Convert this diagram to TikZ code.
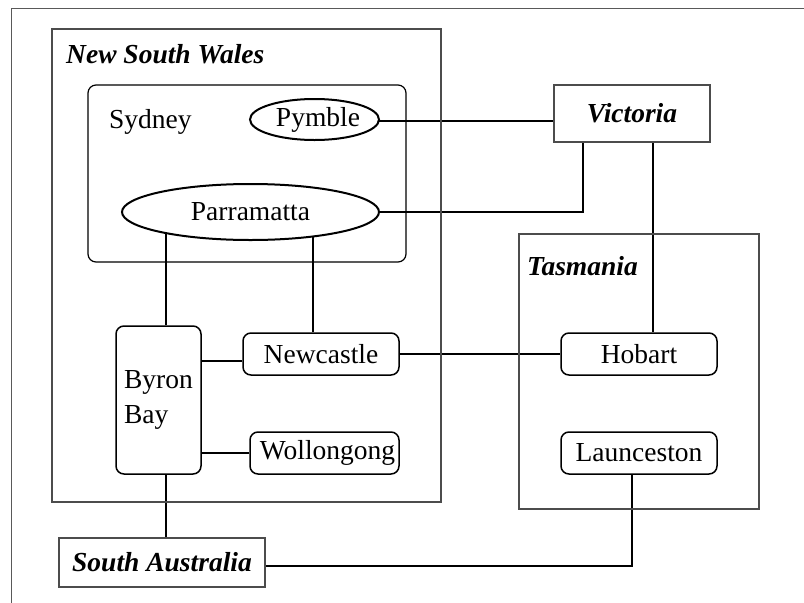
\documentclass[tikz,border=0pt]{standalone}
\usepackage{fontspec}
\setmainfont{Liberation Serif}
\usetikzlibrary{shapes.geometric,calc}
\pgfdeclarelayer{background}
\pgfsetlayers{background,main}
\begin{document}
\begin{tikzpicture}[x=1pt,y=-1pt,
  every node/.style={font=\fontsize{27.5}{35}\selectfont},
  frame/.style={draw=black!70,line width=1.1pt,inner sep=0pt},
  state/.style={draw=black!70,line width=1.2pt,fill=white,inner sep=0pt,font=\fontsize{27.5}{35}\selectfont\bfseries\itshape},
  city/.style={draw=black,line width=1.5pt,rounded corners=8pt,fill=white,inner sep=0pt},
  oval/.style={draw=black,line width=2pt,ellipse,fill=white,inner sep=0pt},
  label/.style={inner sep=0pt,anchor=base west},
  conn/.style={draw=black,line width=2.5pt}]
\useasboundingbox (0,0) rectangle (804,603);
% outer frame (only top and left visible)
\draw[black!65,line width=1pt] (11,603) -- (11,8) -- (804,8);
% region frames
\node[frame,minimum width=389pt,minimum height=473pt] (nsw) at (246.5,265.5) {};
\node[label,font=\fontsize{27.5}{35}\selectfont\bfseries\itshape] (nswl) at (66,63) {New South Wales};
\node[frame,minimum width=240pt,minimum height=275pt] (tas) at (639,371.5) {};
\node[label,font=\fontsize{27.5}{35}\selectfont\bfseries\itshape] (tasl) at (527,275) {Tasmania};
\node[draw=black,line width=1.2pt,rounded corners=8pt,inner sep=0pt,minimum width=318pt,minimum height=177pt] (syd) at (247,173.5) {};
\node[label] (sydl) at (109,128) {Sydney};
% nodes
\node[oval,minimum width=129pt,minimum height=41pt] (pym) at (314.5,119.5) {\hspace*{7pt}\raisebox{-2pt}{Pymble}};
\node[oval,minimum width=257pt,minimum height=56pt] (par) at (250.5,212) {\raisebox{-2pt}{Parramatta}};
\node[state,minimum width=156pt,minimum height=57pt] (vic) at (632,113.5) {Victoria};
\node[state,minimum width=206pt,minimum height=49pt] (sa) at (162,562.5) {South Australia};
\node[city,minimum width=156pt,minimum height=42pt] (hob) at (639,354) {Hobart};
\node[city,minimum width=156pt,minimum height=42pt] (lau) at (639,453) {Launceston};
\node[city,minimum width=156pt,minimum height=42pt] (new) at (321,354) {Newcastle};
\node[city,minimum width=149pt,minimum height=42pt] (wol) at (324.5,453) {\hspace*{6pt}Wollongong};
\node[city,inner sep=8pt,text width=69pt,align=left,minimum height=148pt] (byr) at (158.5,400) {Byron\\Bay};
% connectors
\begin{pgfonlayer}{background}
\draw[conn] ([yshift=-1.5pt]pym.center) -- ([yshift=-1.5pt]pym.center -| vic.west);
\draw[conn] (par.center) -| ([xshift=-49pt]vic.south);
\draw[conn] ([xshift=21pt]vic.south) -- ([xshift=21pt]vic.south |- hob.north);
\draw[conn] (new.east) -- (hob.west);
\draw[conn] ([xshift=7.5pt]byr.north) -- ([xshift=7.5pt]byr.north |- par.center);
\draw[conn] ([xshift=-8pt]new.north) -- ([xshift=-8pt]new.north |- par.center);
\draw[conn] ([yshift=39pt]byr.east) -- ([yshift=39pt]byr.east -| new.west);
\draw[conn] (wol.west) -- (wol.west -| byr.east);
\draw[conn] ([xshift=7.5pt]byr.south) -- ([xshift=7.5pt]byr.south |- sa.north);
\draw[conn] ([xshift=-7pt]lau.south) |- ([yshift=-3.5pt]sa.east);
\end{pgfonlayer}
\end{tikzpicture}
\end{document}
